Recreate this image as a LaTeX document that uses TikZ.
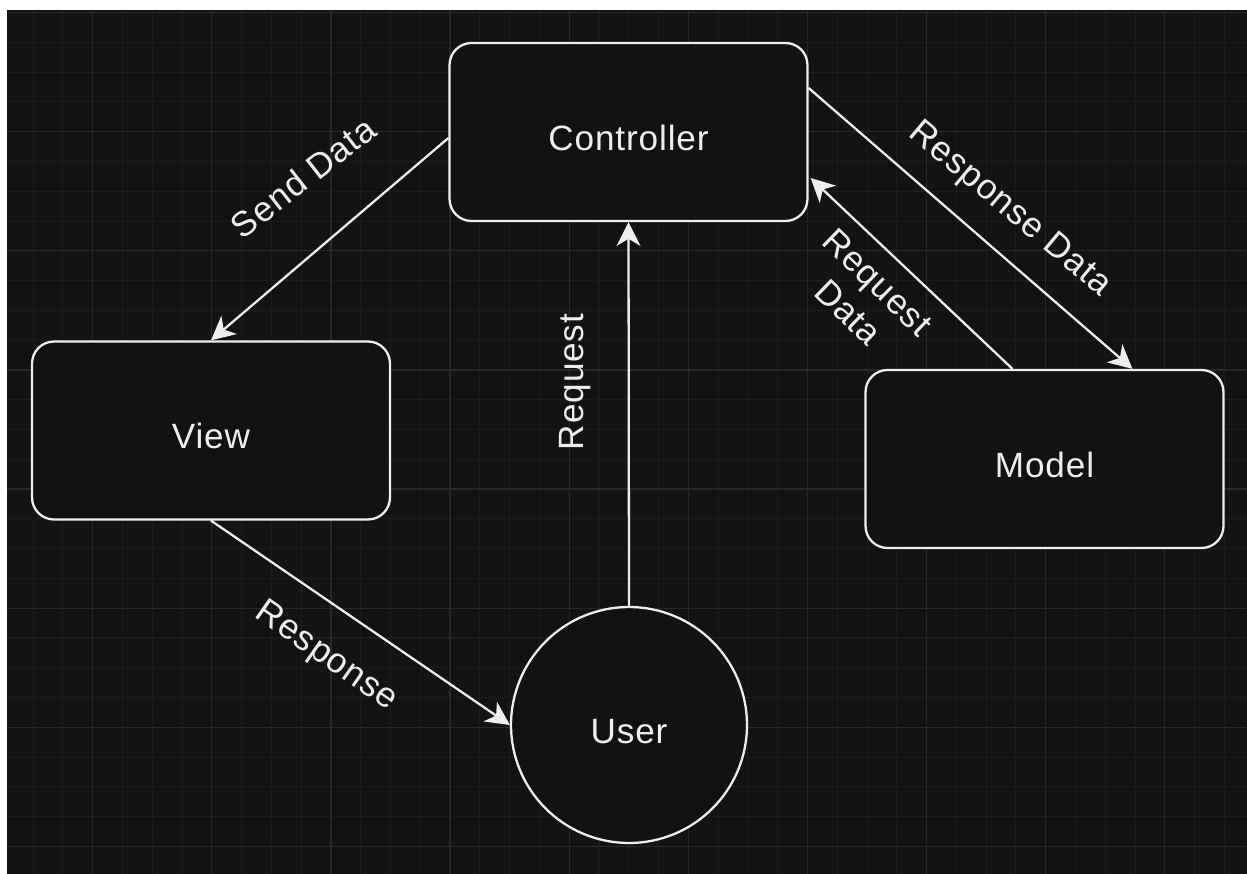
\documentclass[tikz,border=0pt]{standalone}
\usepackage{fontspec}
\setmainfont{Liberation Sans}[LetterSpace=2.5]
\usetikzlibrary{arrows.meta}

\definecolor{canvas}{HTML}{131313}
\definecolor{boxfill}{HTML}{121212}
\definecolor{gridminor}{HTML}{1C1C1C}
\definecolor{gridmajor}{HTML}{282828}
\definecolor{ink}{HTML}{EEEEEE}

\tikzset{
  gminor/.style={draw=gridminor, line width=0.6pt},
  gmajor/.style={draw=gridmajor, line width=0.7pt},
  block/.style={draw=ink, fill=boxfill, line width=1.3pt, rounded corners=12.5pt,
    minimum width=7.16cm, minimum height=3.56cm, text=ink, font=\fontsize{20}{24}\selectfont,
    text height=21pt, text depth=0pt, inner sep=0pt},
  roundnode/.style={draw=ink, fill=boxfill, line width=1.3pt, circle,
    minimum size=4.72cm, text=ink, font=\fontsize{20}{24}\selectfont,
    text height=21pt, text depth=0pt, inner sep=0pt},
  flow/.style={draw=ink, line width=1.3pt,
    -{Stealth[length=13.5pt, width=13.5pt, inset=4pt]}},
  tag/.style={text=ink, font=\fontsize{20}{24}\selectfont, inner sep=0pt,
    text depth=0pt},
}

\begin{document}
\begin{tikzpicture}[x=0.02cm, y=-0.02cm]
  \useasboundingbox (0,0) rectangle (1247,874);
  % page margin and dark canvas
  \fill[white] (0,0) rectangle (1247,874);
  \fill[canvas] (7,10) rectangle (1247,874);

  % background grid
  \foreach \i in {0,...,40}
    \draw[gminor] ({33.18+29.78*\i},10) -- ({33.18+29.78*\i},874);
  \foreach \i in {0,...,28}
    \draw[gminor] (7,{12.6+29.78*\i}) -- (1247,{12.6+29.78*\i});
  \foreach \i in {0,...,9}
    \draw[gmajor] ({92.74+119.12*\i},10) -- ({92.74+119.12*\i},874);
  \foreach \i in {0,...,7}
    \draw[gmajor] (7,{12.6+119.12*\i}) -- (1247,{12.6+119.12*\i});

  % components
  \node[block] (ctrl) at (628.5,132) {Controller};
  \node[block] (view) at (211,430.5) {View};
  \node[block] (model) at (1044.5,459) {Model};
  \node[roundnode] (user) at (629,725) {User};

  % connectors
  \draw[flow] ([shift={(0,6)}]ctrl.west) -- (view.north);
  \draw[flow] (view.south) -- (user.west);
  \draw[flow] (user.north) -- (ctrl.south);
  \draw[flow] ([shift={(0,-44)}]ctrl.east) -- ([shift={(88,0)}]model.north);
  \draw[flow] ([shift={(-32,0)}]model.north) -- ([shift={(2,46)}]ctrl.east);

  % connector labels
  \node[tag, rotate=38] (lsend) at (303,177) {Send Data};
  \node[tag, rotate=-35] (lresp) at (328,654) {Response};
  \node[tag, rotate=90] (lreq) at (571,382) {Request};
  \node[tag, rotate=-40] (lrespdata) at (1012,207) {Response Data};
  \node[tag, rotate=-44, align=center] (lreqdata) at (863,297) {Request\\Data};
\end{tikzpicture}
\end{document}
